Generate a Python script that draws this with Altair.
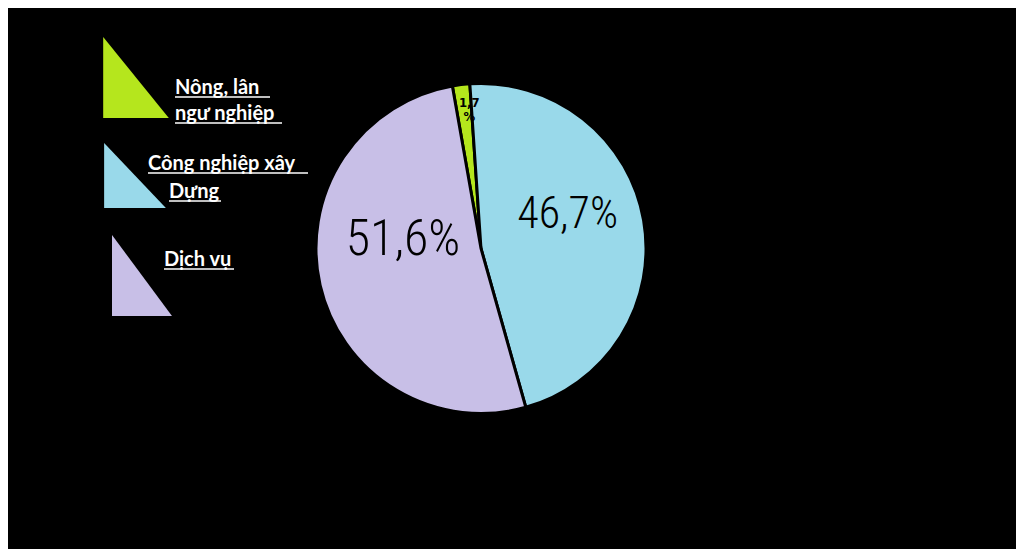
import math
import altair as alt
import pandas as pd

# ---- data ----
sectors = ["Nông, lân ngư nghiệp", "Công nghiệp xây dựng", "Dịch vụ"]
shares = [1.7, 46.7, 51.6]
labels = ["1,7\n%", "46,7%", "51,6%"]
colors = ["#b5e61d", "#99d9ea", "#c8bfe7"]
legend_lines = [["Nông, lân ", "ngư nghiệp"], ["Công nghiệp xây ", "Dựng"], ["Dịch vụ"]]

df = pd.DataFrame({"sector": sectors, "share": shares, "label": labels, "idx": [0, 1, 2]})

start = math.radians(-10)
theta_range = [start, start + 2 * math.pi]
color_scale = alt.Scale(domain=sectors, range=colors)
CX, CY = 473, 240.5

pie = alt.Chart(df).mark_arc(outerRadius=165, stroke="black", strokeWidth=3).encode(
    theta=alt.Theta("share:Q", stack=True, scale=alt.Scale(range=theta_range)),
    order=alt.Order("idx:Q"),
    x=alt.value(CX),
    y=alt.value(CY),
    color=alt.Color("sector:N", scale=color_scale, legend=None),
)

label_base = (
    alt.Chart(df)
    .transform_window(cum="sum(share)", sort=[alt.SortField("idx")])
    .transform_calculate(mid="datum.cum - datum.share / 2")
    .encode(
        theta=alt.Theta("mid:Q", scale=alt.Scale(domain=[0, 100], range=theta_range)),
        x=alt.value(CX),
        y=alt.value(CY),
        text="label:N",
    )
)

label_font = "Roboto Condensed, DejaVu Sans Condensed, sans-serif"
lbl_green = label_base.mark_text(radius=147, dx=6, fontSize=13, font="DejaVu Sans Condensed",
                                 color="black", lineBreak="\n", lineHeight=14,
                                 fontWeight="bold").transform_filter(alt.datum.idx == 0)
lbl_blue = label_base.mark_text(radius=88, dy=-18, fontSize=44, font=label_font, color="black",
                                fontWeight=300).transform_filter(alt.datum.idx == 1)
lbl_purple = label_base.mark_text(radius=80, dy=-26, fontSize=50, font=label_font, color="black",
                                  fontWeight=300).transform_filter(alt.datum.idx == 2)

# ---- hand-drawn legend: right triangles + underlined text ----
tri_specs = [
    (0, 128, 69.5, "M -0.81 -1 L 0.81 1 L -0.81 1 Z", 81 ** 2),
    (1, 127, 167.5, "M -0.95 -1 L 0.95 1 L -0.95 1 Z", 65 ** 2),
    (2, 134, 267.5, "M -0.74 -1 L 0.74 1 L -0.74 1 Z", 81 ** 2),
]
tris = []
for i, x, y, path, size in tri_specs:
    tris.append(
        alt.Chart(df).transform_filter(alt.datum.idx == i)
        .mark_point(shape=path, size=size, filled=True, opacity=1, strokeWidth=0)
        .encode(x=alt.value(x), y=alt.value(y),
                color=alt.Color("sector:N", scale=color_scale, legend=None))
    )

line_specs = [  # (group, line, x, baseline y, underline end x)
    (0, 0, 167, 86, 262),
    (0, 1, 167, 112, 274),
    (1, 0, 140, 162, 300),
    (1, 1, 161, 190, 213),
    (2, 0, 156, 258, 226),
]
texts = []
for g, l, x, y, x2 in line_specs:
    t = legend_lines[g][l]
    texts.append(
        alt.Chart(pd.DataFrame({"t": [t]}))
        .mark_text(align="left", baseline="alphabetic", font="Lato", fontWeight="bold",
                   fontSize=20, color="white")
        .encode(text="t:N", x=alt.value(x), y=alt.value(y))
    )
    texts.append(
        alt.Chart(pd.DataFrame({"t": [t]}))
        .mark_rule(color="white", strokeWidth=1.6)
        .encode(x=alt.value(x), x2=alt.value(x2), y=alt.value(y + 3))
    )

chart = alt.layer(pie, lbl_green, lbl_blue, lbl_purple, *tris, *texts).properties(
    width=1008, height=541, background="black", padding=0, autosize="none"
).configure_view(stroke=None)

chart.save("out.html", embed_options={"renderer": "svg", "actions": False})
